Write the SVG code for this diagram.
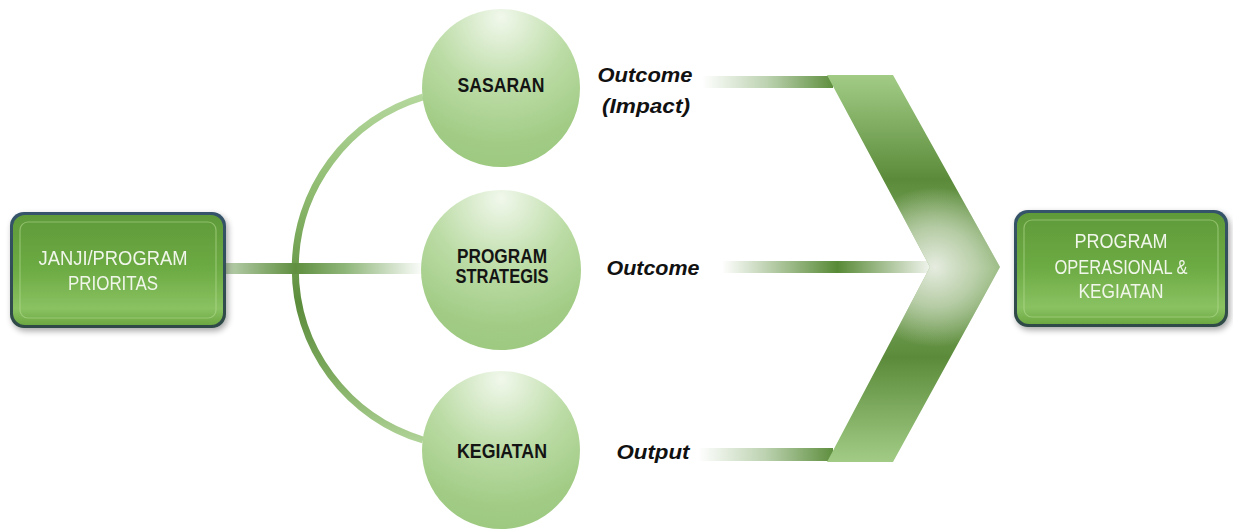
<svg xmlns="http://www.w3.org/2000/svg" width="1233" height="529" viewBox="0 0 1233 529">
<defs>
<style>
.boxtxt{font-family:"Liberation Sans",Arial,sans-serif;font-size:20px;fill:#f0f6ea;text-anchor:middle}
.ctxt{font-family:"Liberation Sans",Arial,sans-serif;font-size:20px;font-weight:bold;fill:#141414;text-anchor:middle}
.lbl{font-family:"Liberation Sans",Arial,sans-serif;font-size:20px;font-weight:bold;font-style:italic;fill:#111;text-anchor:middle}
.circ{fill:url(#cg)}
.outer{fill:url(#og)}
.face{fill:url(#fg)}
.rim{fill:none;stroke:#b6dc94;stroke-opacity:0.55;stroke-width:1.2}
</style>
<radialGradient id="cg" cx="0.5" cy="0.1" r="0.95" fx="0.5" fy="0.05">
<stop offset="0" stop-color="#f1f8ec"/>
<stop offset="0.45" stop-color="#bcdca6"/>
<stop offset="0.8" stop-color="#a2cc86"/>
<stop offset="1" stop-color="#9cc87f"/>
</radialGradient>
<linearGradient id="og" x1="0" y1="0" x2="0" y2="1">
<stop offset="0" stop-color="#35536a"/>
<stop offset="1" stop-color="#2f4a46"/>
</linearGradient>
<linearGradient id="fg" x1="0" y1="0" x2="0" y2="1">
<stop offset="0" stop-color="#5f9a39"/>
<stop offset="0.5" stop-color="#6dab44"/>
<stop offset="0.85" stop-color="#8ac262"/>
<stop offset="1" stop-color="#6ca842"/>
</linearGradient>
<linearGradient id="arcg" x1="0" y1="89" x2="0" y2="447" gradientUnits="userSpaceOnUse">
<stop offset="0" stop-color="#b7d9a0"/>
<stop offset="0.3" stop-color="#8dba6e"/>
<stop offset="0.6" stop-color="#5b8c3b"/>
<stop offset="0.8" stop-color="#7eab5f"/>
<stop offset="1" stop-color="#b4d69c"/>
</linearGradient>
<linearGradient id="hbar" x1="226" y1="0" x2="425" y2="0" gradientUnits="userSpaceOnUse">
<stop offset="0" stop-color="#b9cfae"/>
<stop offset="0.35" stop-color="#5f8f3f"/>
<stop offset="0.6" stop-color="#8fb67a"/>
<stop offset="1" stop-color="#ffffff"/>
</linearGradient>
<linearGradient id="barR" x1="0" y1="0" x2="1" y2="0">
<stop offset="0" stop-color="#ffffff"/>
<stop offset="0.5" stop-color="#bcd2b0"/>
<stop offset="1" stop-color="#5f8f3f"/>
</linearGradient>
<linearGradient id="barM" x1="0" y1="0" x2="1" y2="0">
<stop offset="0" stop-color="#ffffff"/>
<stop offset="0.55" stop-color="#588a36"/>
<stop offset="1" stop-color="#f3f6f0"/>
</linearGradient>
<linearGradient id="chev" x1="0" y1="75" x2="0" y2="462" gradientUnits="userSpaceOnUse">
<stop offset="0" stop-color="#a2cc86"/>
<stop offset="0.27" stop-color="#5b8b3a"/>
<stop offset="0.5" stop-color="#8cb271"/>
<stop offset="0.73" stop-color="#5b8b3a"/>
<stop offset="1" stop-color="#a2cc86"/>
</linearGradient>
<radialGradient id="glow" cx="935" cy="267" r="80" gradientUnits="userSpaceOnUse">
<stop offset="0" stop-color="#e6ece0" stop-opacity="1"/>
<stop offset="0.5" stop-color="#d6e2cc" stop-opacity="0.65"/>
<stop offset="1" stop-color="#d6e2cc" stop-opacity="0"/>
</radialGradient>
<filter id="sh" x="-10%" y="-10%" width="125%" height="130%">
<feGaussianBlur in="SourceAlpha" stdDeviation="3"/>
<feOffset dx="2" dy="3" result="b"/>
<feComponentTransfer><feFuncA type="linear" slope="0.35"/></feComponentTransfer>
<feMerge><feMergeNode/><feMergeNode in="SourceGraphic"/></feMerge>
</filter>
</defs>
<rect width="1233" height="529" fill="#ffffff"/>

<g id="connectors">
<path d="M423,97 A179,179 0 0 0 423,440" fill="none" stroke="url(#arcg)" stroke-width="7"/>
<rect x="226" y="263" width="200" height="11" fill="url(#hbar)"/>
<rect x="702" y="76" width="131" height="12" fill="url(#barR)"/>
<rect x="722" y="261" width="210" height="12" fill="url(#barM)"/>
<rect x="698" y="448" width="135" height="13" fill="url(#barR)"/>
</g>

<g id="chevron">
<polygon points="827,75 893,75 1000,267 893,462 827,462 930,267" fill="url(#chev)"/>
<polygon points="827,75 893,75 1000,267 893,462 827,462 930,267" fill="url(#glow)"/>
</g>

<g id="janji" filter="url(#sh)">
<rect x="10" y="212" width="216" height="116" rx="14" class="outer"/>
<rect x="13" y="215" width="210" height="110" rx="12" class="face"/>
<rect x="20" y="222" width="196" height="96" rx="8" class="rim"/>
<text class="boxtxt" x="113" y="265" textLength="149" lengthAdjust="spacingAndGlyphs">JANJI/PROGRAM</text>
<text class="boxtxt" x="113" y="290" textLength="90" lengthAdjust="spacingAndGlyphs">PRIORITAS</text>
</g>

<g id="sasaran">
<circle cx="501" cy="88" r="79" class="circ"/>
<text class="ctxt" x="501" y="92" textLength="87" lengthAdjust="spacingAndGlyphs">SASARAN</text>
</g>

<g id="program-strategis">
<circle cx="501" cy="270" r="80" class="circ"/>
<text class="ctxt" x="502" y="263" textLength="90" lengthAdjust="spacingAndGlyphs">PROGRAM</text>
<text class="ctxt" x="502" y="283" textLength="93" lengthAdjust="spacingAndGlyphs">STRATEGIS</text>
</g>

<g id="kegiatan">
<circle cx="501" cy="450" r="79" class="circ"/>
<text class="ctxt" x="502" y="458" textLength="90" lengthAdjust="spacingAndGlyphs">KEGIATAN</text>
</g>

<g id="labels">
<text class="lbl" x="645" y="82" textLength="95" lengthAdjust="spacingAndGlyphs">Outcome</text>
<text class="lbl" x="646" y="113" textLength="88" lengthAdjust="spacingAndGlyphs">(Impact)</text>
<text class="lbl" x="653" y="275" textLength="93" lengthAdjust="spacingAndGlyphs">Outcome</text>
<text class="lbl" x="653" y="459" textLength="73" lengthAdjust="spacingAndGlyphs">Output</text>
</g>

<g id="program-operasional" filter="url(#sh)">
<rect x="1014" y="210" width="214" height="117" rx="14" class="outer"/>
<rect x="1017" y="213" width="208" height="111" rx="12" class="face"/>
<rect x="1024" y="220" width="194" height="97" rx="8" class="rim"/>
<text class="boxtxt" x="1121" y="248" textLength="93" lengthAdjust="spacingAndGlyphs">PROGRAM</text>
<text class="boxtxt" x="1121" y="274" textLength="133" lengthAdjust="spacingAndGlyphs">OPERASIONAL &amp;</text>
<text class="boxtxt" x="1121" y="298" textLength="85" lengthAdjust="spacingAndGlyphs">KEGIATAN</text>
</g>
</svg>
